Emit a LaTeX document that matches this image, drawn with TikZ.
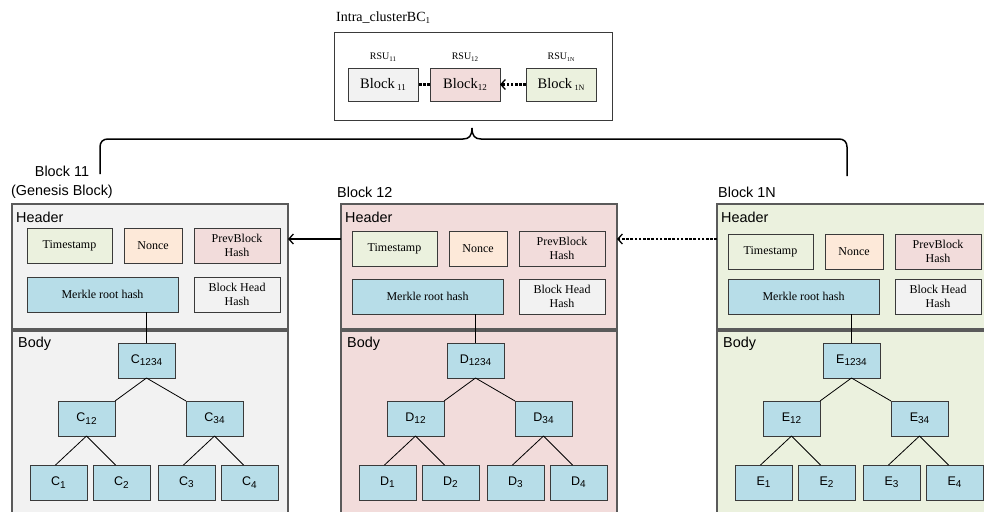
\documentclass[tikz,border=0pt]{standalone}
\usepackage{fontspec}
\setmainfont{Liberation Serif}
\setsansfont{Liberation Sans}
\usetikzlibrary{arrows.meta,calc}
\definecolor{bggray}{HTML}{F2F2F2}
\definecolor{bgpink}{HTML}{F2DCDB}
\definecolor{bggreen}{HTML}{EBF1DE}
\definecolor{peach}{HTML}{FDE9D9}
\definecolor{lblue}{HTML}{B7DDE8}
\definecolor{edgec}{HTML}{3A3A3A}
\definecolor{panelc}{HTML}{5A5A5A}
\newcommand\mysub[2]{\raisebox{-0.35ex}{\fontsize{#1}{#1}\selectfont #2}}
\tikzset{
  panel/.style={draw=panelc, line width=1.1pt, minimum width=276pt, minimum height=125pt, anchor=north west, inner sep=0pt, outer sep=0pt},
  field/.style={draw=edgec, line width=0.9pt, minimum height=35pt, anchor=north west, inner sep=0pt, outer sep=0pt, align=center, font=\fontsize{12}{14.5}\selectfont},
  tnode/.style={draw=edgec, fill=lblue, line width=0.9pt, minimum width=57pt, minimum height=35pt, anchor=north west, inner sep=0pt, outer sep=0pt, font=\sffamily\fontsize{12.5}{14}\selectfont},
  lbl/.style={font=\sffamily\fontsize{14.4}{19}\selectfont, inner sep=0pt, align=center},
  tedge/.style={line width=0.8pt, draw=black},
  minib/.style={draw=edgec, line width=0.9pt, minimum width=70pt, minimum height=33pt, anchor=north west, inner sep=0pt, outer sep=0pt, font=\fontsize{14.5}{16}\selectfont},
  rsul/.style={font=\fontsize{10}{12}\selectfont, inner sep=0pt},
  dotl/.style={line width=2.2pt, dash pattern=on 2.6pt off 1.6pt},
  barb/.style={-{Straight Barb[length=4.5pt,width=10pt,line width=1.3pt]}}
}
% #1 prefix, #2 x0, #3 bg, #4 letter, #5 field x, #6 ts y, #7 merkle y
\newcommand\blockcol[7]{%
  \node[panel, fill=#3] (#1h) at (#2,204) {};
  \node[panel, fill=#3, minimum height=190pt] (#1b) at (#2,331) {};
  \node[lbl, anchor=west] (#1hl) at ($(#1h.north west)+(4,13)$) {Header};
  \node[lbl, anchor=west] (#1bl) at ($(#1b.north west)+(6,13)$) {Body};
  \node[field, fill=bggreen, minimum width=85pt] (#1ts) at (#5,#6) {Timestamp};
  \node[field, fill=peach, minimum width=58pt] (#1no) at ($(#1ts.north west)+(97,0)$) {Nonce};
  \node[field, fill=bgpink, minimum width=86pt] (#1pv) at ($(#1ts.north west)+(167,0)$) {PrevBlock\\Hash};
  \node[field, fill=lblue, minimum width=151pt] (#1mr) at (#5,#7) {Merkle root hash};
  \node[field, fill=bggray, minimum width=86pt] (#1bh) at ($(#1mr.north west)+(167,0)$) {Block Head\\Hash};
  \node[tnode] (#1r) at ($(#1b.north west)+(106,12)$) {#4\mysub{10}{1234}};
  \node[tnode] (#1l) at ($(#1b.north west)+(46,70)$) {#4\mysub{10}{12}};
  \node[tnode] (#1g) at ($(#1b.north west)+(174,70)$) {#4\mysub{10}{34}};
  \node[tnode] (#1a) at ($(#1b.north west)+(18,134)$) {#4\mysub{10}{1}};
  \node[tnode] (#1c) at ($(#1b.north west)+(81,134)$) {#4\mysub{10}{2}};
  \node[tnode] (#1d) at ($(#1b.north west)+(146,134)$) {#4\mysub{10}{3}};
  \node[tnode] (#1e) at ($(#1b.north west)+(209,134)$) {#4\mysub{10}{4}};
  \draw[tedge] (#1r.north) -- (#1r.north |- #1mr.south);
  \draw[tedge] (#1r.south) -- (#1l.north east);
  \draw[tedge] (#1r.south) -- (#1g.north west);
  \draw[tedge] (#1l.south) -- ($(#1a.north)+(-3,0)$);
  \draw[tedge] (#1l.south) -- ($(#1c.north)+(-6,0)$);
  \draw[tedge] (#1g.south) -- ($(#1d.north)+(-3,0)$);
  \draw[tedge] (#1g.south) -- ($(#1e.north)+(-6,0)$);
}
\begin{document}
\begin{tikzpicture}[x=1pt,y=-1pt]
\useasboundingbox (0,0) rectangle (984,511);
\clip (0,0) rectangle (984,511);
\fill[white] (0,0) rectangle (984,511);

% top cluster box
\node[font=\fontsize{14}{16}\selectfont, inner sep=0pt, anchor=west] (title) at (336,18) {Intra\_clusterBC\mysub{9}{1}};
\node[draw=edgec, line width=0.9pt, minimum width=278pt, minimum height=88pt, anchor=north west, inner sep=0pt, outer sep=0pt] (top) at (334,32) {};
\node[minib, fill=bggray] (t11) at (348,68) {Block\,\mysub{9}{11}};
\node[minib, fill=bgpink] (t12) at (430,68) {Block\mysub{9}{12}};
\node[minib, fill=bggreen] (t1N) at (526,68) {Block\,\mysub{8}{1N}};
\node[rsul] (r11) at ($(t11.north)+(0,-11)$) {RSU\mysub{7}{11}};
\node[rsul] (r12) at ($(t12.north)+(0,-11)$) {RSU\mysub{7}{12}};
\node[rsul] (r1N) at ($(t1N.north)+(0,-11)$) {RSU\mysub{6}{1N}};
\draw[dotl] (t12.west) -- (t11.east);
\draw[dotl, barb] (t1N.west) -- (t12.east);

% brace
\coordinate (tip) at ($(top.south)+(-1,8)$);
\draw[line width=1.5pt] (100,174) -- (100,147) .. controls (100,142) and (103,139) .. (108,139)
  -- ($(tip)+(-9,11)$) .. controls ($(tip)+(-3,11)$) and ($(tip)+(0,8)$) .. (tip)
  .. controls ($(tip)+(0,8)$) and ($(tip)+(3,11)$) .. ($(tip)+(9,11)$)
  -- (839,139) .. controls (844,139) and (847,142) .. (847,147) -- (847,176);

% block columns
\blockcol{A}{12}{bggray}{C}{27}{228}{277}
\blockcol{B}{341}{bgpink}{D}{352}{231}{279}
\blockcol{E}{717}{bggreen}{E}{728}{234}{279}

\node[lbl] (lab11) at (62,182) {Block 11\\(Genesis Block)};
\node[lbl, anchor=west] (lab12) at (337,192) {Block 12};
\node[lbl, anchor=west] (lab1N) at (718,192) {Block 1N};

% chain arrows
\draw[line width=1.3pt, barb] ($(Bh.north west)+(0,35)$) -- ($(Ah.north east)+(0,35)$);
\draw[dotl, barb] ($(Eh.north west)+(0,35)$) -- ($(Bh.north east)+(0,35)$);
\end{tikzpicture}
\end{document}
